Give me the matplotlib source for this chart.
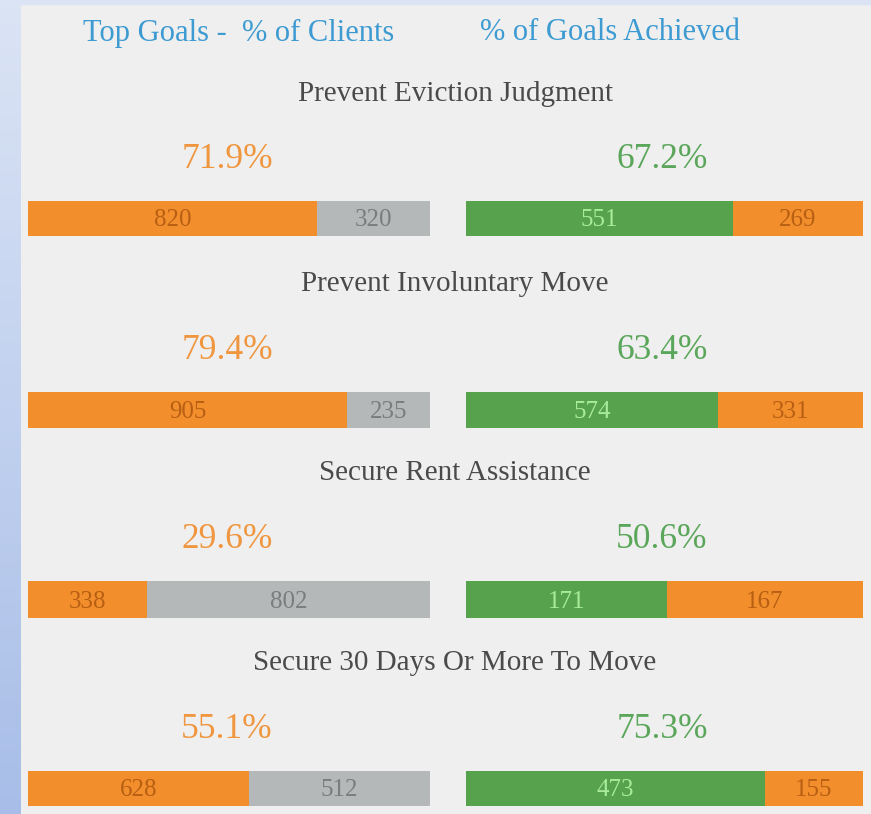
import numpy as np
import matplotlib
matplotlib.use("Agg")
import matplotlib.pyplot as plt
from matplotlib.colors import LinearSegmentedColormap
from matplotlib.transforms import offset_copy

W, H = 871, 814

goals = ["Prevent Eviction Judgment", "Prevent Involuntary Move",
         "Secure Rent Assistance", "Secure 30 Days Or More To Move"]
clients_yes = [820, 905, 338, 628]
clients_no = [320, 235, 802, 512]
achieved = [551, 574, 171, 473]
not_achieved = [269, 331, 167, 155]
pct_clients = ["71.9%", "79.4%", "29.6%", "55.1%"]
pct_achieved = ["67.2%", "63.4%", "50.6%", "75.3%"]

ORANGE = "#f28f2c"
GRAY = "#b5b8b9"
GREEN = "#57a34d"
SERIF = ["Liberation Serif", "DejaVu Serif"]

fig = plt.figure(figsize=(W / 100, H / 100), dpi=100)
fig.patch.set_facecolor("#efefef")


def fx(px):
    return px / W


def fy(py):
    return 1 - py / H


# blue strips on the left and top
bg = fig.add_axes([0, 0, 1, 1])
bg.axis("off")
cmap = LinearSegmentedColormap.from_list("strip", ["#dbe4f5", "#a8bee8"])
bg.imshow(np.linspace(0, 1, 100).reshape(-1, 1), cmap=cmap, aspect="auto",
          extent=(0, 20, H, 0), zorder=0)
bg.axhspan(0, 4, color="#dae4f5", zorder=0)
bg.set_xlim(0, W)
bg.set_ylim(H, 0)

fig.text(fx(239), fy(40.5), "Top Goals -  % of Clients", color="#3d9bd2",
         fontsize=22, family=SERIF, ha="center", va="baseline")
fig.text(fx(610), fy(40.5), "% of Goals Achieved", color="#3d9bd2",
         fontsize=22, family=SERIF, ha="center", va="baseline")

rows = [(201, 236), (392, 428), (581, 618), (771, 806)]
label_base = [101, 291, 480, 670]
pct_base = [168, 359, 548, 738]


def bar_pair(x0, x1, top, bot, a, b, ca, cb, ta, tb):
    ax = fig.add_axes([fx(x0), fy(bot), fx(x1 - x0), (bot - top) / H])
    ax.barh([0], [a], color=ca, height=1)
    ax.barh([0], [b], left=[a], color=cb, height=1)
    ax.set_xlim(0, a + b)
    ax.set_ylim(-0.5, 0.5)
    ax.axis("off")
    tr = offset_copy(ax.transData, fig=fig, y=-8, units="dots")
    ax.text(a / 2, 0, str(a), color=ta, fontsize=18, family=SERIF,
            ha="center", va="baseline", transform=tr)
    ax.text(a + b / 2, 0, str(b), color=tb, fontsize=18, family=SERIF,
            ha="center", va="baseline", transform=tr)


for i in range(4):
    top, bot = rows[i]
    fig.text(fx(455), fy(label_base[i]), goals[i], color="#4a4a4a",
             fontsize=21, family=SERIF, ha="center", va="baseline")
    fig.text(fx(227), fy(pct_base[i]), pct_clients[i], color="#f0963f",
             fontsize=25.5, family=SERIF, ha="center", va="baseline")
    fig.text(fx(662), fy(pct_base[i]), pct_achieved[i], color="#5aa65a",
             fontsize=25.5, family=SERIF, ha="center", va="baseline")
    bar_pair(28, 430, top, bot, clients_yes[i], clients_no[i],
             ORANGE, GRAY, "#b85f14", "#7a7d7e")
    bar_pair(466, 863, top, bot, achieved[i], not_achieved[i],
             GREEN, ORANGE, "#a9eb9d", "#b85f14")

fig.savefig("out.png", dpi=100, facecolor=fig.get_facecolor())
